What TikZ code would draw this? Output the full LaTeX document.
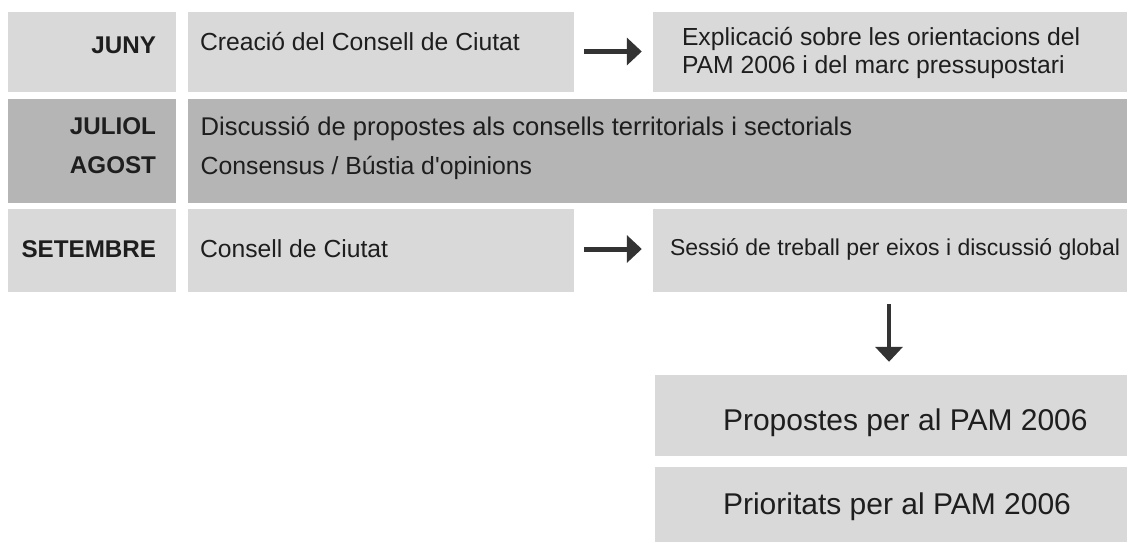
\documentclass[tikz,border=0pt]{standalone}
\usepackage{fontspec}
\setmainfont{Liberation Sans}
\newfontfamily\plainlib{Liberation Sans}
\usetikzlibrary{arrows.meta,fit}
\definecolor{lightbox}{HTML}{D9D9D9}
\definecolor{darkbox}{HTML}{B5B5B5}
\definecolor{ink}{HTML}{1E1E1E}
\definecolor{arrowc}{HTML}{333333}
\tikzset{
  box/.style={fill=#1, draw=none, inner sep=0pt},
  txt/.style={text=ink, inner sep=0pt, outer sep=0pt},
  lbl/.style={txt, anchor=base east, font=\fontsize{24.2}{39}\selectfont\bfseries, align=right},
  arr/.style={draw=arrowc, line width=5pt, -{Triangle[length=15pt, width=27pt]}}
}
\newcommand{\mkbox}[6]{% name, x1, y1, x2, y2, color
  \path (#2,#3) coordinate (#1-nw) (#4,#5) coordinate (#1-se);
  \node[box=#6, fit=(#1-nw)(#1-se)] (#1) {};}
\begin{document}
\begin{tikzpicture}[x=1pt, y=-1pt]
\useasboundingbox (0,0) rectangle (1131,542);
% boxes
\mkbox{lab1}{8}{12}{176}{92}{lightbox}
\mkbox{c1}{188}{12}{574}{92}{lightbox}
\mkbox{r1}{653}{12}{1127}{92}{lightbox}
\mkbox{lab2}{8}{99}{176}{203}{darkbox}
\mkbox{c2}{188}{99}{1127}{203}{darkbox}
\mkbox{lab3}{8}{209}{176}{292}{lightbox}
\mkbox{c3}{188}{209}{574}{292}{lightbox}
\mkbox{r3}{653}{209}{1127}{292}{lightbox}
\mkbox{prop}{655}{375}{1127}{456}{lightbox}
\mkbox{prio}{655}{467}{1127}{542}{lightbox}
% labels
\node[lbl] (tjuny) at (156,53) {JUNY};
\node[lbl] (tjul) at (156,173) {JULIOL\\AGOST};
\node[lbl] (tset) at (156,257) {SETEMBRE};
% texts
\node[txt, anchor=base west, font=\fontsize{24.7}{29}\selectfont] (t1) at (200,50.7) {Creació del Consell de Ciutat};
\node[txt, anchor=base west, align=left, font=\fontsize{24.7}{27.5}\selectfont] (t2) at (682,73) {Explicació sobre les orientacions del\\PAM 2006 i del marc pressupostari};
\node[txt, anchor=base west, align=left, font=\fontsize{25.6}{38.3}\selectfont] (t3) at (200.7,174) {Discussió de propostes als consells territorials i sectorials\\{\fontsize{24.8}{38.3}\selectfont\plainlib Consensus / Bústia d'opinions}};
\node[txt, anchor=base west, font=\fontsize{24.7}{29}\selectfont] (t4) at (200,257) {Consell de Ciutat};
\node[txt, anchor=base west, font=\fontsize{23}{28}\selectfont] (t5) at (670,255) {Sessió de treball per eixos i discussió global};
\node[txt, anchor=base west, font=\fontsize{30}{36}\selectfont] (t6) at (723,430) {Propostes per al PAM 2006};
\node[txt, anchor=base west, font=\fontsize{30}{36}\selectfont] (t7) at (723,514) {Prioritats per al PAM 2006};
% arrows
\draw[arr, shorten <=10pt, shorten >=11pt] ([yshift=0.5pt]c1.east) -- ([yshift=0.5pt]r1.west);
\draw[arr, shorten <=10pt, shorten >=11pt] ([yshift=1.5pt]c3.east) -- ([yshift=1.5pt]c3.east -| r3.west);
\draw[arr, line width=4.5pt, shorten <=12pt, shorten >=13pt] ([xshift=-1pt]r3.south) -- ([xshift=-1pt]r3.south |- prop.north);
\end{tikzpicture}
\end{document}
